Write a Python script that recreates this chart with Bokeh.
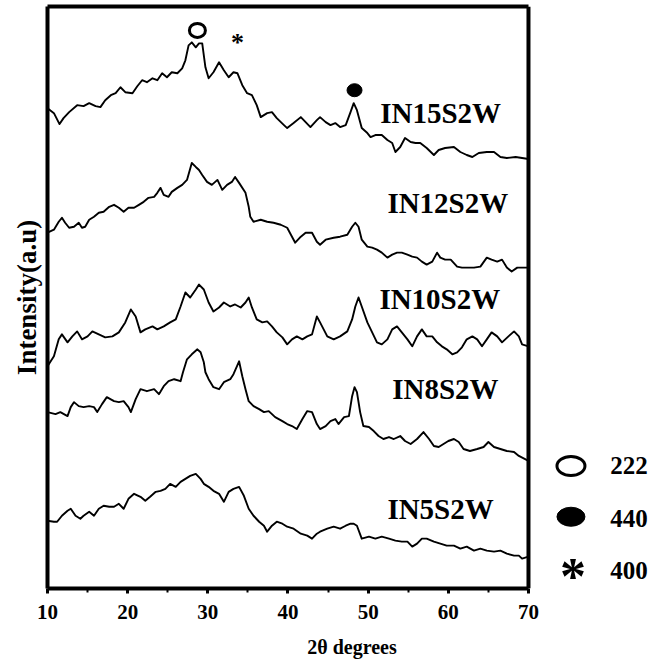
from bokeh.plotting import figure
from bokeh.models import Range1d, FixedTicker, LinearAxis, Span
from bokeh.core.properties import value
from bokeh.embed import file_html
from bokeh.resources import INLINE

# ---- data (2theta in degrees, intensity in a.u., traces offset as in the figure) ----
tt_15 = [10.0, 10.8, 11.5, 12.0, 12.7, 13.7, 14.5, 15.2, 16.0, 16.6, 17.2, 17.9, 18.5, 19.1, 19.7,
         20.6, 21.2, 21.8, 22.4, 23.1, 23.7, 24.3, 24.9, 25.5, 26.2, 26.8, 27.2, 27.6, 28.0, 28.5,
         28.9, 29.3, 29.7, 30.1, 30.7, 31.4, 32.0, 32.6, 33.2, 33.7, 34.3, 34.9, 35.5, 36.1, 36.6,
         37.4, 38.0, 38.6, 39.5, 39.9, 40.7, 41.6, 42.2, 42.8, 43.6, 44.0, 44.7, 45.3, 45.9, 46.5,
         47.2, 47.8, 48.2, 48.6, 49.2, 49.9, 50.3, 50.9, 51.7, 52.4, 53.0, 53.4, 54.0, 54.6, 55.3,
         55.9, 56.5, 57.3, 58.2, 58.8, 59.6, 60.7, 61.5, 62.3, 63.0, 63.8, 64.8, 65.7, 66.5, 67.3,
         68.4, 69.2, 70.0]
i_15 = [486, 481, 470, 476, 482, 489, 488, 491, 488, 487, 494, 499, 501, 507, 502,
        501, 508, 514, 512, 516, 514, 521, 517, 522, 521, 526, 534, 549, 552, 547,
        551, 551, 527, 516, 522, 532, 524, 517, 522, 521, 509, 501, 499, 489, 477,
        481, 482, 476, 469, 466, 471, 477, 472, 467, 474, 477, 472, 469, 471, 467,
        469, 482, 491, 484, 466, 461, 457, 459, 459, 454, 451, 442, 447, 456, 452,
        451, 451, 446, 439, 444, 446, 447, 442, 439, 437, 441, 442, 442, 437, 436,
        437, 436, 435]

tt_12 = [10.0, 10.8, 11.4, 11.8, 12.2, 12.7, 13.3, 13.9, 14.3, 14.7, 15.2, 15.8, 16.4, 17.0, 17.7,
         18.3, 18.9, 19.5, 20.1, 20.8, 21.4, 22.0, 22.6, 23.3, 23.7, 24.1, 24.5, 25.1, 25.5, 26.2,
         26.8, 27.4, 28.0, 28.5, 28.9, 29.3, 29.9, 30.5, 31.2, 31.8, 32.4, 33.0, 33.4, 33.9, 34.7,
         35.1, 35.3, 35.7, 36.6, 37.4, 38.2, 39.1, 39.9, 40.5, 40.9, 41.6, 42.2, 43.0, 43.6, 44.0,
         44.7, 45.7, 46.5, 47.4, 48.0, 48.4, 48.8, 49.2, 49.9, 50.5, 51.1, 51.7, 52.4, 53.0, 53.6,
         54.2, 54.9, 55.5, 56.1, 56.7, 57.3, 58.0, 58.6, 59.0, 59.6, 60.3, 61.1, 61.7, 62.3, 63.2,
         64.0, 64.8, 65.4, 66.1, 66.7, 67.3, 67.9, 68.6, 70.0]
i_12 = [361, 364, 372, 376, 371, 366, 367, 371, 366, 367, 374, 377, 381, 382, 387,
        389, 386, 382, 386, 386, 389, 392, 396, 397, 401, 406, 399, 397, 402, 406,
        409, 414, 431, 427, 424, 419, 412, 409, 414, 404, 409, 412, 417, 411, 401,
        387, 377, 372, 374, 372, 371, 369, 366, 357, 351, 357, 361, 361, 352, 349,
        354, 356, 357, 359, 367, 371, 367, 354, 347, 346, 344, 341, 336, 339, 341,
        341, 339, 337, 336, 332, 329, 332, 341, 336, 334, 334, 327, 326, 326, 326,
        327, 336, 334, 332, 334, 326, 322, 326, 326]

tt_10 = [10.0, 10.8, 11.4, 11.8, 12.5, 13.1, 13.7, 14.3, 15.0, 15.6, 16.4, 17.2, 18.1, 18.9, 19.7,
         20.4, 21.0, 21.6, 22.2, 23.1, 23.7, 24.5, 25.3, 26.0, 26.6, 27.2, 27.8, 28.5, 28.9, 29.5,
         30.1, 30.7, 31.4, 32.0, 32.8, 33.4, 34.1, 34.7, 35.1, 35.5, 36.1, 36.8, 37.4, 38.0, 38.6,
         39.3, 39.9, 40.5, 41.1, 41.8, 42.4, 43.0, 43.6, 44.0, 44.9, 45.7, 46.5, 47.4, 48.0, 48.4,
         48.8, 49.2, 49.9, 50.5, 51.1, 51.7, 52.4, 53.0, 53.6, 54.2, 54.9, 55.5, 56.1, 56.7, 57.3,
         58.0, 58.6, 59.2, 59.8, 60.5, 61.1, 61.7, 62.3, 63.0, 63.6, 64.2, 64.8, 65.4, 66.1, 66.7,
         67.5, 68.2, 68.8, 69.2, 70.0]
i_10 = [227, 237, 254, 259, 251, 257, 262, 254, 257, 262, 259, 256, 257, 261, 271,
        284, 277, 261, 264, 267, 264, 267, 271, 274, 287, 301, 296, 304, 309, 304,
        291, 282, 286, 291, 287, 289, 286, 291, 296, 286, 274, 271, 272, 267, 261,
        256, 249, 254, 257, 254, 257, 259, 277, 271, 257, 254, 257, 262, 274, 287,
        296, 287, 271, 261, 251, 249, 254, 264, 267, 261, 254, 247, 257, 264, 257,
        257, 251, 247, 244, 239, 241, 246, 254, 257, 254, 247, 254, 261, 257, 251,
        257, 262, 257, 249, 247]

tt_8 = [10.0, 11.0, 11.6, 12.5, 12.9, 13.3, 13.9, 14.5, 15.2, 15.8, 16.2, 16.8, 17.4, 18.3, 18.9,
        19.5, 20.1, 20.4, 21.0, 21.6, 22.4, 23.3, 23.9, 24.5, 25.1, 25.8, 26.6, 26.9, 27.4, 28.0,
        28.7, 29.1, 29.5, 29.7, 30.1, 30.7, 31.4, 32.0, 32.8, 33.2, 33.9, 34.3, 34.7, 35.1, 35.7,
        36.4, 37.0, 37.6, 38.4, 39.3, 39.9, 40.5, 41.1, 41.8, 42.4, 43.0, 43.6, 44.0, 44.7, 45.3,
        45.9, 46.3, 47.0, 47.6, 48.0, 48.3, 48.6, 49.0, 49.4, 50.1, 50.7, 51.3, 51.9, 52.6, 53.2,
        54.0, 54.6, 55.3, 56.1, 56.9, 57.6, 58.2, 58.8, 59.4, 60.0, 60.7, 61.3, 61.9, 62.7, 63.6,
        64.4, 65.0, 65.7, 66.5, 67.3, 68.2, 68.8, 70.0]
i_8 = [181, 179, 181, 177, 186, 191, 187, 186, 187, 186, 181, 189, 196, 192, 191,
       192, 186, 181, 194, 204, 202, 204, 199, 207, 212, 214, 212, 221, 234, 239,
       244, 241, 231, 221, 214, 206, 204, 211, 214, 219, 232, 217, 204, 192, 187,
       184, 181, 182, 176, 172, 169, 167, 164, 174, 182, 181, 169, 164, 167, 172,
       174, 169, 176, 177, 197, 206, 201, 181, 167, 166, 162, 157, 154, 156, 154,
       157, 152, 149, 154, 161, 154, 147, 146, 149, 152, 154, 151, 144, 142, 144,
       146, 151, 146, 144, 142, 141, 137, 132]

tt_5 = [10.0, 10.8, 11.2, 11.8, 12.5, 12.9, 13.5, 14.1, 14.5, 15.2, 15.8, 16.4, 17.0, 17.7, 18.3,
        18.9, 19.5, 20.1, 20.8, 21.6, 22.2, 22.8, 23.5, 24.1, 24.7, 25.3, 26.0, 26.6, 27.2, 27.8,
        28.5, 29.1, 29.5, 30.1, 30.7, 31.4, 32.0, 32.6, 33.2, 33.9, 34.5, 35.1, 35.7, 36.4, 37.0,
        37.4, 38.0, 38.6, 39.3, 39.9, 40.7, 41.6, 42.4, 43.0, 43.6, 44.0, 44.9, 45.7, 46.5, 47.2,
        47.8, 48.2, 48.6, 49.2, 50.1, 50.9, 51.7, 52.6, 53.4, 54.2, 54.9, 55.5, 56.1, 56.7, 57.3,
        58.2, 59.0, 59.8, 60.7, 61.5, 62.3, 63.2, 64.0, 64.8, 65.7, 66.5, 67.3, 68.2, 68.8, 69.2,
        70.0]
i_5 = [72, 71, 71, 77, 82, 84, 77, 74, 77, 81, 77, 84, 87, 86, 86,
       89, 84, 94, 99, 96, 92, 96, 101, 102, 104, 109, 106, 111, 114, 117,
       119, 114, 109, 106, 102, 99, 91, 101, 104, 106, 97, 84, 77, 71, 67,
       61, 67, 71, 69, 66, 64, 59, 57, 54, 59, 61, 64, 66, 64, 67,
       69, 69, 67, 54, 56, 54, 56, 54, 52, 51, 51, 46, 49, 54, 54,
       51, 49, 47, 47, 44, 46, 42, 44, 42, 41, 42, 39, 37, 37, 34,
       36]

sample_names = ["IN15S2W", "IN12S2W", "IN10S2W", "IN8S2W", "IN5S2W"]
label_tt = [51.5, 52.4, 51.4, 53.0, 52.4]
label_i = [481, 391, 294, 204, 84]

# reflection markers on the top pattern
peak_222 = (28.7, 564)
peak_440 = (48.3, 504)
peak_400 = (33.7, 556)
legend_labels = ["222", "440", "400"]

x_ticks = [10, 20, 30, 40, 50, 60, 70]
x_minor = [15, 25, 35, 45, 55, 65]
X_MIN, X_MAX = 10, 70

SERIF = value("Liberation Serif")

# the frame extends to the right edge so that the key can sit beside the pattern box
p = figure(width=656, height=660, x_range=Range1d(10, 85.97), y_range=Range1d(4, 588),
           output_backend="svg", toolbar_location=None,
           min_border_left=47, min_border_right=0, min_border_top=6, min_border_bottom=70)
p.grid.visible = False
p.outline_line_color = None
p.background_fill_color = "white"
p.border_fill_color = "white"

for tt, ii in [(tt_15, i_15), (tt_12, i_12), (tt_10, i_10), (tt_8, i_8), (tt_5, i_5)]:
    p.line(tt, ii, line_color="black", line_width=1.9, line_join="round")

p.text(label_tt, label_i, text=sample_names, text_font=SERIF, text_font_style="bold",
       text_font_size="29px", text_color="black", text_baseline="middle", text_align="left")

p.ellipse([peak_222[0]], [peak_222[1]], width=16, height=14, width_units="screen",
          height_units="screen", fill_color="white", line_color="black", line_width=3)
p.ellipse([peak_440[0]], [peak_440[1]], width=15, height=13, width_units="screen",
          height_units="screen", fill_color="black", line_color="black", line_width=1)
p.text([peak_400[0]], [peak_400[1] - 4], text=["*"], text_font=SERIF, text_font_style="bold",
       text_font_size="26px", text_color="black", text_baseline="middle", text_align="center")

# key (open circle 222, filled circle 440, asterisk 400)
key_x, key_text_x = 75.3, 80.2
p.ellipse([key_x], [127], width=28, height=19, width_units="screen", height_units="screen",
          fill_color="white", line_color="black", line_width=3)
p.ellipse([key_x], [76], width=28, height=19, width_units="screen", height_units="screen",
          fill_color="black", line_color="black", line_width=1)
p.text([key_x + 0.25], [16], text=["*"], text_font=SERIF, text_font_style="bold",
       text_font_size="52px", text_color="black", text_baseline="middle", text_align="center")
p.text([key_text_x] * 3, [127, 74, 22], text=legend_labels, text_font=SERIF,
       text_font_style="bold", text_font_size="25px", text_color="black",
       text_baseline="middle", text_align="left")

xa = p.xaxis[0]
xa.bounds = (X_MIN, X_MAX)
xa.ticker = FixedTicker(ticks=x_ticks, minor_ticks=x_minor)
xa.axis_label = "2θ degrees"
xa.axis_label_text_font = "Liberation Serif"
xa.axis_label_text_font_style = "bold"
xa.axis_label_text_font_size = "20px"
xa.axis_label_text_color = "black"
xa.axis_label_standoff = 14
xa.major_label_text_font = "Liberation Serif"
xa.major_label_text_font_style = "bold"
xa.major_label_text_font_size = "21px"
xa.major_label_text_color = "black"
xa.major_label_standoff = 11
xa.axis_line_width = 4
xa.axis_line_color = "black"
xa.major_tick_out = 5
xa.major_tick_in = 0
xa.major_tick_line_width = 3
xa.major_tick_line_color = "black"
xa.minor_tick_out = 4
xa.minor_tick_in = 0
xa.minor_tick_line_width = 2
xa.minor_tick_line_color = "black"

ya = p.yaxis[0]
ya.ticker = FixedTicker(ticks=[])
ya.axis_label = "Intensity(a.u)"
ya.axis_label_text_font = "Liberation Serif"
ya.axis_label_text_font_style = "bold"
ya.axis_label_text_font_size = "27px"
ya.axis_label_text_color = "black"
ya.axis_label_standoff = 6
ya.axis_line_width = 4
ya.axis_line_color = "black"
ya.major_tick_line_color = None
ya.minor_tick_line_color = None

# top and right edges of the pattern box
top = LinearAxis(bounds=(X_MIN, X_MAX), ticker=FixedTicker(ticks=[]), axis_line_width=4,
                 axis_line_color="black", major_tick_line_color=None,
                 minor_tick_line_color=None, major_label_text_font_size="0px")
p.add_layout(top, "above")
p.add_layout(Span(location=X_MAX, dimension="height", line_color="black", line_width=4))

open("out.html", "w").write(file_html(p, INLINE))
